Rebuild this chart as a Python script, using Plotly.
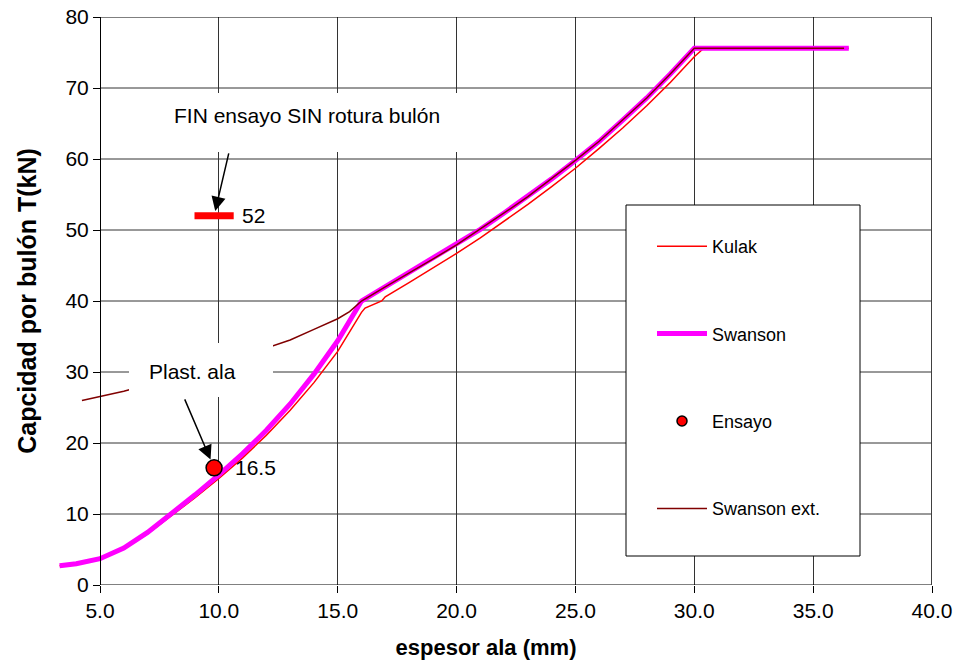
import plotly.graph_objects as go

# ---------------- data ----------------
kulak_x = [3.3, 4, 5, 6, 7, 8, 9, 10, 11, 12, 13, 14, 15, 16, 16.15, 16.85, 17, 18, 19, 20,
           21, 22, 23, 24, 25, 26, 27, 28, 29, 30, 30.4, 36.5]
kulak_y = [2.7, 3.0, 3.7, 5.1, 7.2, 9.7, 12.3, 15.0, 17.9, 21.1, 24.6, 28.5, 32.9, 38.4, 39.0, 40.0,
           40.6, 42.6, 44.6, 46.7, 48.9, 51.2, 53.6, 56.1, 58.7, 61.5, 64.4, 67.5, 70.8, 74.4, 75.6, 75.6]

swanson_x = [3.3, 4, 5, 6, 7, 8, 9, 10, 11, 12, 13, 14, 15, 16, 17, 18, 19, 20,
             21, 22, 23, 24, 25, 26, 27, 28, 29, 30, 36.5]
swanson_y = [2.7, 3.0, 3.7, 5.2, 7.4, 10.0, 12.7, 15.5, 18.5, 21.8, 25.5, 29.7, 34.4, 40.0, 42.0, 43.9,
             45.9, 47.9, 50.1, 52.4, 54.7, 57.2, 59.8, 62.5, 65.5, 68.6, 72.0, 75.6, 75.6]

ext_x = [4.24, 5, 6, 7, 8, 9, 10, 11, 12, 13, 14, 15, 15.5, 16, 17, 18, 19, 20,
         21, 22, 23, 24, 25, 26, 27, 28, 29, 30, 36.3]
ext_y = [26.0, 26.6, 27.3, 28.2, 29.1, 30.1, 31.1, 32.2, 33.3, 34.5, 36.0, 37.5, 38.5, 40.0, 42.0, 43.9,
         45.9, 47.9, 50.1, 52.4, 54.7, 57.2, 59.8, 62.5, 65.5, 68.6, 72.0, 75.6, 75.6]

ensayo_x = [9.8]
ensayo_y = [16.5]

fin_x = [9.8]
fin_y = [52]

x_ticks = [5, 10, 15, 20, 25, 30, 35, 40]
y_ticks = [0, 10, 20, 30, 40, 50, 60, 70, 80]

# ---------------- layout geometry ----------------
W, H = 957, 671
ML, MR, MT, MB = 40, 25, 17, 86
PX5, PX40 = 100, 932          # pixel of x=5 and x=40
PPU = (PX40 - PX5) / 35.0
X0 = 5 - (PX5 - ML) / PPU
Y_BOT, Y_TOP = 585, 17
PPY = (Y_BOT - Y_TOP) / 80.0


def px2x(px):
    return 5 + (px - PX5) / PPU


def px2y(py):
    return (Y_BOT - py) / PPY


def pxfx(px):
    return (px - ML) / (W - ML - MR)


def pxfy(py):
    return (Y_BOT - py) / (Y_BOT - Y_TOP)


FONT = "Liberation Sans, Arial, sans-serif"
GRID = "#333333"

fig = go.Figure()

fig.add_trace(go.Scatter(x=kulak_x, y=kulak_y, mode="lines", name="Kulak",
                         line=dict(color="#FF0000", width=1.5),
                         legendgroup="g1", legendrank=1))
fig.add_trace(go.Scatter(x=swanson_x, y=swanson_y, mode="lines", name="Swanson",
                         line=dict(color="#FF00FF", width=5),
                         legendgroup="g2", legendrank=2))
fig.add_trace(go.Scatter(x=ext_x, y=ext_y, mode="lines", name="Swanson ext.",
                         line=dict(color="#800000", width=1.5),
                         legendgroup="g4", legendrank=4))
fig.add_trace(go.Scatter(x=ensayo_x, y=ensayo_y, mode="markers", name="Ensayo",
                         marker=dict(color="#FF0000", size=16, line=dict(color="black", width=1.5)),
                         showlegend=False, legendgroup="g3"))
fig.add_trace(go.Scatter(x=[None], y=[None], mode="markers", name="Ensayo",
                         marker=dict(color="#FF0000", size=10, line=dict(color="black", width=1.5)),
                         legendgroup="g3", legendrank=3))
fig.add_trace(go.Scatter(x=fin_x, y=fin_y, mode="markers", name="FIN",
                         marker=dict(symbol="line-ew", size=28, color="#FF0000",
                                     line=dict(color="#FF0000", width=7)),
                         showlegend=False))

shapes = []
for yv in y_ticks[1:-1]:
    shapes.append(dict(type="line", xref="x", yref="y", x0=5, x1=40, y0=yv, y1=yv,
                       line=dict(color=GRID, width=1), layer="between"))
# top border, bottom axis, right border
shapes.append(dict(type="line", xref="x", yref="y", x0=5, x1=40, y0=80, y1=80,
                   line=dict(color="black", width=1), layer="between"))
shapes.append(dict(type="line", xref="x", yref="y", x0=5, x1=40, y0=0, y1=0,
                   line=dict(color="black", width=1), layer="between"))
shapes.append(dict(type="line", xref="x", yref="y", x0=40, x1=40, y0=0, y1=80,
                   line=dict(color="#404040", width=2), layer="between"))
# white boxes behind annotations
shapes.append(dict(type="rect", xref="x", yref="y", x0=px2x(147), x1=px2x(470),
                   y0=px2y(152), y1=px2y(93), fillcolor="white", line=dict(width=0), layer="above"))
shapes.append(dict(type="rect", xref="x", yref="y", x0=px2x(129), x1=px2x(273),
                   y0=px2y(397), y1=px2y(343), fillcolor="white", line=dict(width=0), layer="above"))
# legend box
shapes.append(dict(type="rect", xref="paper", yref="paper", x0=pxfx(626), x1=pxfx(860),
                   y0=pxfy(556), y1=pxfy(205), fillcolor="white",
                   line=dict(color="black", width=1), layer="above"))

annotations = [
    dict(x=px2x(306.7), y=px2y(115), xref="x", yref="y", text="FIN ensayo SIN rotura bulón",
         showarrow=False, font=dict(size=21, color="black", family=FONT)),
    dict(x=px2x(192.5), y=px2y(371.7), xref="x", yref="y", text="Plast. ala",
         showarrow=False, font=dict(size=21, color="black", family=FONT)),
    dict(x=fin_x[0], y=fin_y[0], xref="x", yref="y", text="", showarrow=True,
         ax=15, ay=-64, arrowhead=2, arrowsize=1.9, arrowwidth=1.5, arrowcolor="black", standoff=5),
    dict(x=ensayo_x[0], y=ensayo_y[0], xref="x", yref="y", text="", showarrow=True,
         ax=-30, ay=-70, arrowhead=2, arrowsize=1.9, arrowwidth=1.5, arrowcolor="black", standoff=9),
    dict(x=fin_x[0], y=fin_y[0], xref="x", yref="y", text=f"{fin_y[0]:g}", showarrow=False,
         xanchor="left", xshift=26, font=dict(size=21, color="black", family=FONT)),
    dict(x=ensayo_x[0], y=ensayo_y[0], xref="x", yref="y", text=f"{ensayo_y[0]:g}", showarrow=False,
         xanchor="left", xshift=19, font=dict(size=21, color="black", family=FONT)),
]

fig.update_layout(
    width=W, height=H, autosize=False,
    margin=dict(l=ML, r=MR, t=MT, b=MB, pad=0),
    paper_bgcolor="white", plot_bgcolor="white",
    font=dict(family=FONT, color="black", size=21),
    shapes=shapes, annotations=annotations,
    legend=dict(x=pxfx(652), y=pxfy(228), xanchor="left", yanchor="top",
                bgcolor="rgba(0,0,0,0)", borderwidth=0, itemwidth=50,
                tracegroupgap=61, font=dict(size=18, color="black", family=FONT)),
    xaxis=dict(range=[X0, 40], tickmode="array", tickvals=x_ticks, automargin=False,
               ticktext=[f"{v:.1f}" for v in x_ticks],
               showgrid=True, gridcolor=GRID, gridwidth=1, zeroline=False, showline=False,
               ticks="outside", ticklen=7, tickcolor="black",
               tickfont=dict(size=21, color="black", family=FONT),
               title=dict(text="espesor ala (mm)", standoff=18,
                          font=dict(size=22, color="black", family=FONT, weight="bold"))),
    yaxis=dict(range=[0, 80], tickmode="array", tickvals=y_ticks, automargin=False,
               anchor="free", position=pxfx(PX5),
               showgrid=False, zeroline=False, showline=True, linecolor="black", linewidth=1,
               ticks="outside", ticklen=7, tickcolor="black",
               tickfont=dict(size=21, color="black", family=FONT),
               title=dict(text="Capcidad por bulón T(kN)", standoff=20,
                          font=dict(size=25, color="black", family=FONT, weight="bold"))),
)

fig.write_html("out.html")
